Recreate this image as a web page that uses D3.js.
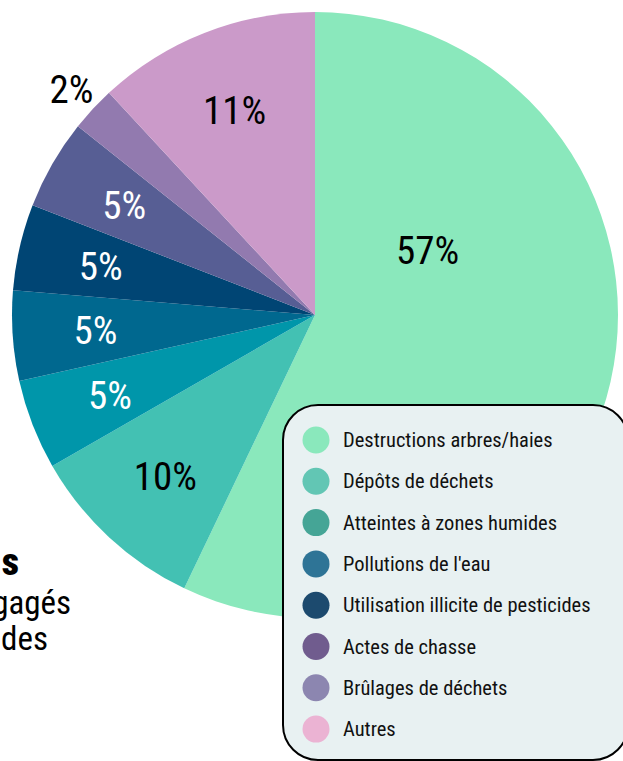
<!DOCTYPE html>
<html>
<head>
<meta charset="utf-8">
<script src="https://cdn.jsdelivr.net/npm/d3@7"></script>
<style>
  body { margin: 0; background: #fff; }
  svg { display: block; }
  text { font-family: "Roboto Condensed", "Roboto", sans-serif; }
</style>
</head>
<body>
<div id="chart"></div>
<script>
let categories = ["Destructions arbres/haies", "Dépôts de déchets", "Atteintes à zones humides",
    "Pollutions de l'eau", "Utilisation illicite de pesticides", "Actes de chasse",
    "Brûlages de déchets", "Autres"]
let values = [57.1, 9.6, 4.8, 4.8, 4.6, 4.8, 2.4, 11.9]
let pctLabels = ["57%", "10%", "5%", "5%", "5%", "5%", "2%", "11%"]
let sliceColors = ["#8ae8bc", "#43c1b3", "#0096aa", "#00688f", "#004574", "#575e94", "#927aaf", "#cb9ac9"]
let legendColors = ["#8ae8bc", "#62c6b4", "#45a596", "#2e7496", "#1c4a6e", "#705c8e", "#8c86b0", "#ebb3d3"]
let labelColors = ["#000", "#000", "#fff", "#fff", "#fff", "#fff", "#000", "#000"]
// cut-off text on the left edge
let sideText = ["s", "gagés", "des"]

let width = 623, height = 761
let cx = 315, cy = 315, radius = 303

let data = categories.map((c, i) => ({name: c, value: values[i], pct: pctLabels[i],
    color: sliceColors[i], legend: legendColors[i], label: labelColors[i]}))

let svg = d3.select("#chart").append("svg")
    .attr("width", width)
    .attr("height", height)

// left side text, mostly outside the frame
svg.append("g").selectAll("text")
    .data(sideText)
    .join("text")
    .attr("x", (d, i) => [19, 71, 48][i])
    .attr("y", (d, i) => [575, 614, 650][i])
    .attr("text-anchor", "end")
    .attr("font-size", (d, i) => i == 0 ? 38 : 33)
    .attr("font-weight", (d, i) => i == 0 ? 900 : "normal")
    .attr("fill", "#000")
    .text(d => d)

let pie = d3.pie().sort(null).value(d => d.value)
let arcs = pie(data)
let arc = d3.arc().innerRadius(0).outerRadius(radius)

let g = svg.append("g")
    .attr("transform", "translate(" + cx + "," + cy + ")")

g.selectAll("path")
    .data(arcs)
    .join("path")
    .attr("d", arc)
    .attr("fill", d => d.data.color)

// label placement: centroid on a ring, small slices go outside
let labelArc = d3.arc().innerRadius(220).outerRadius(220)
let outerArc = d3.arc().innerRadius(332).outerRadius(332)
function labelPos(d) {
    if (d.data.value > 50) {
        // big slice: label sits in the upper part (the legend covers the rest)
        let a = Math.PI / 3, r = 130
        return [Math.sin(a) * r, -Math.cos(a) * r]
    }
    if (d.data.value < 3) return outerArc.centroid(d)
    return labelArc.centroid(d)
}

g.selectAll("text.pct")
    .data(arcs)
    .join("text")
    .attr("class", "pct")
    .attr("transform", d => "translate(" + labelPos(d) + ")")
    .attr("text-anchor", "middle")
    .attr("dy", "0.36em")
    .attr("font-size", 39)
    .attr("fill", d => d.data.label)
    .text(d => d.data.pct)

// legend box
let legend = svg.append("g")
    .attr("transform", "translate(283,405)")

legend.append("rect")
    .attr("width", 345)
    .attr("height", 355)
    .attr("rx", 35)
    .attr("ry", 35)
    .attr("fill", "#e8f1f2")
    .attr("stroke", "#000")
    .attr("stroke-width", 2)

let item = legend.selectAll("g.item")
    .data(data)
    .join("g")
    .attr("class", "item")
    .attr("transform", (d, i) => "translate(33," + (35 + i * 41.3) + ")")

item.append("circle")
    .attr("r", 13.5)
    .attr("fill", d => d.legend)

item.append("text")
    .attr("x", 27)
    .attr("dy", "0.35em")
    .attr("font-size", 20.5)
    .attr("fill", "#111")
    .text(d => d.name)
</script>
</body>
</html>
